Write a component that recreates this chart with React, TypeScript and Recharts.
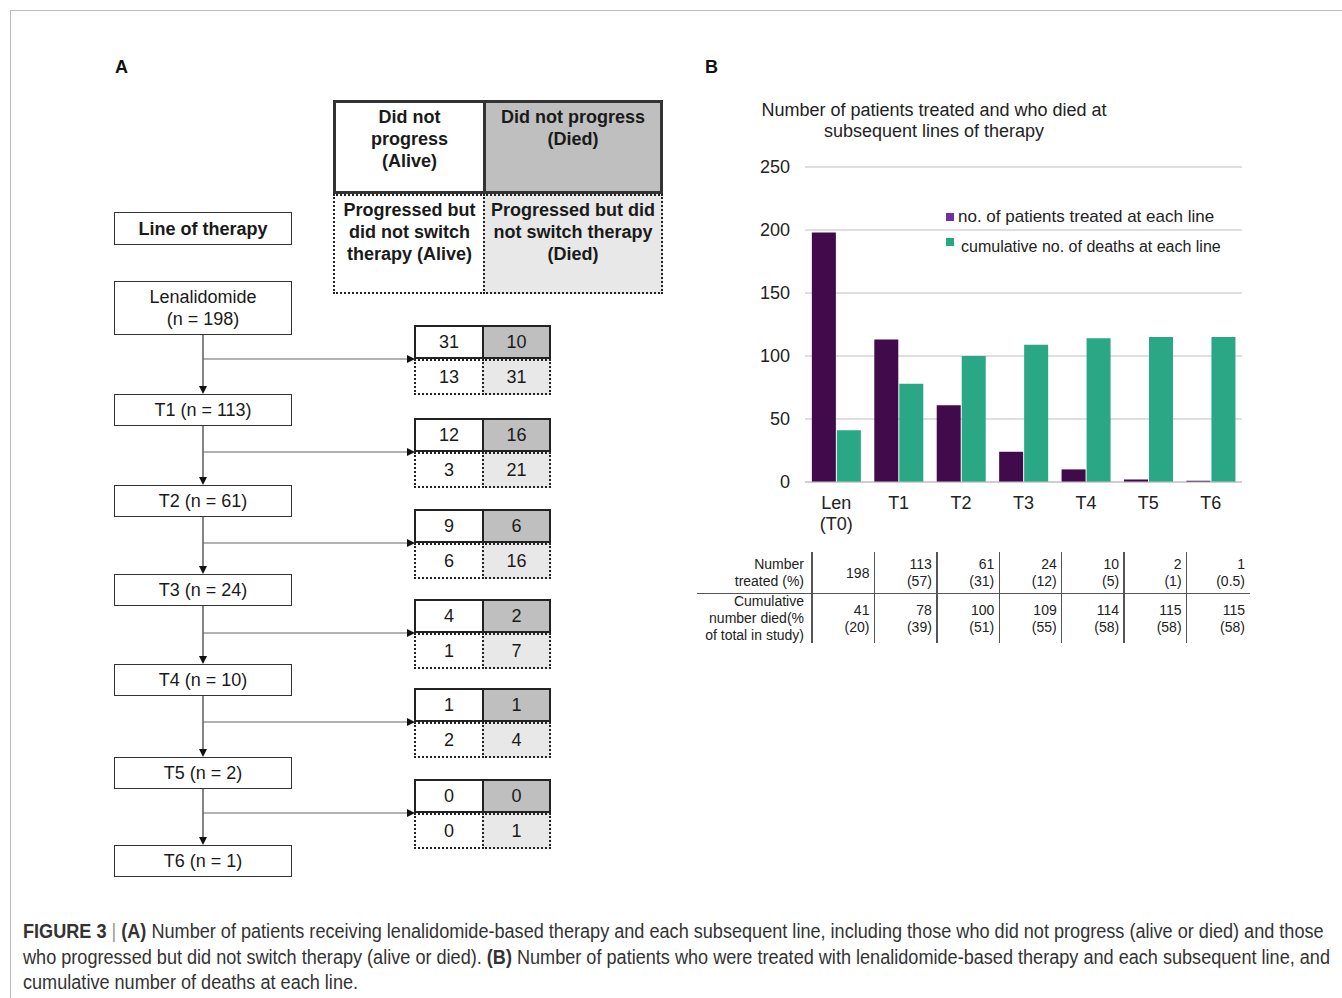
import React from 'react';
import { BarChart, Bar, XAxis, YAxis, CartesianGrid } from 'recharts';

// ---------- DATA ----------
const categories = ['Len (T0)', 'T1', 'T2', 'T3', 'T4', 'T5', 'T6'];
const treated = [198, 113, 61, 24, 10, 2, 1];
const deaths = [41, 78, 100, 109, 114, 115, 115];
const treatedPct = ['', '(57)', '(31)', '(12)', '(5)', '(1)', '(0.5)'];
const deathsPct = ['(20)', '(39)', '(51)', '(55)', '(58)', '(58)', '(58)'];
const yTicks = [0, 50, 100, 150, 200, 250];

const lineLabels = ['Lenalidomide\n(n = 198)', 'T1 (n = 113)', 'T2 (n = 61)', 'T3 (n = 24)', 'T4 (n = 10)', 'T5 (n = 2)', 'T6 (n = 1)'];
const notProgAlive = [31, 12, 9, 4, 1, 0];
const notProgDied = [10, 16, 6, 2, 1, 0];
const progAlive = [13, 3, 6, 1, 2, 0];
const progDied = [31, 21, 16, 7, 4, 1];

const seriesNames = ['no. of patients treated at each line', 'cumulative no. of deaths at each line'];

const chartData = categories.map((c, i) => ({ name: c, treated: treated[i], deaths: deaths[i] }));

// ---------- STYLE / LAYOUT ----------
const FONT = '"Liberation Sans", Arial, Helvetica, sans-serif';
const PURPLE = '#400A4B';
const PURPLE_LEG = '#7030A0';
const GREEN = '#2AA784';
const GRID = '#BFBFBF';

const boxTops = [281, 394, 485, 574, 664, 757, 845];
const boxHeights = [54, 32, 32, 32, 32, 32, 32];
const numTops = [325, 418, 509, 599, 688, 779];

const PLOT_LEFT = 805;
const PLOT_RIGHT = 1242;
const BAND = (PLOT_RIGHT - PLOT_LEFT) / 7;

const abs = (x: number, y: number, w: number, h: number): React.CSSProperties => ({
  position: 'absolute', left: x, top: y, width: w, height: h, boxSizing: 'border-box',
});

const XTick = (props: any) => {
  const { x, y, payload } = props;
  const parts = String(payload.value).split(' ');
  return (
    <text x={x} y={y} textAnchor="middle" fill="#222" fontSize={18} fontFamily={FONT}>
      {parts.map((p: string, i: number) => (
        <tspan key={i} x={x} dy={i === 0 ? 27 : 21}>{p}</tspan>
      ))}
    </text>
  );
};

const Cell = (p: { x: number; y: number; w: number; h: number; bg: string; border: string; bold?: boolean; top?: boolean; children?: React.ReactNode }) => (
  <div
    style={{
      ...abs(p.x, p.y, p.w, p.h),
      background: p.bg,
      border: p.border,
      display: 'flex',
      alignItems: p.top ? 'flex-start' : 'center',
      justifyContent: 'center',
      textAlign: 'center',
      fontWeight: p.bold ? 'bold' : 'normal',
      fontSize: 18,
      lineHeight: '22px',
      color: '#1a1a1a',
      paddingTop: p.top ? 3 : 0,
    }}
  >
    <div>{p.children}</div>
  </div>
);

const PanelA = () => {
  const arrowX = 203;
  const lines: React.ReactNode[] = [];
  for (let i = 0; i < 6; i++) {
    const y0 = boxTops[i] + boxHeights[i];
    const y1 = boxTops[i + 1];
    const by = numTops[i] + 34;
    lines.push(
      <g key={i}>
        <line x1={arrowX} y1={y0} x2={arrowX} y2={y1 - 7} stroke="#333" strokeWidth={1.2} />
        <polygon points={`${arrowX - 4},${y1 - 8} ${arrowX + 4},${y1 - 8} ${arrowX},${y1}`} fill="#111" />
        <line x1={arrowX} y1={by} x2={407} y2={by} stroke="#666" strokeWidth={1.2} />
        <polygon points={`${407},${by - 4} ${407},${by + 4} ${415},${by}`} fill="#111" />
      </g>
    );
  }
  return (
    <>
      <svg style={{ position: 'absolute', left: 0, top: 0 }} width={700} height={900}>
        {lines}
      </svg>
      {/* Legend box */}
      <Cell x={333} y={100} w={153} h={94} bg="#fff" border="3px solid #333" bold top>
        Did not<br />progress<br />(Alive)
      </Cell>
      <Cell x={483} y={100} w={180} h={94} bg="#BFBFBF" border="3px solid #333" bold top>
        Did not progress<br />(Died)
      </Cell>
      <Cell x={333} y={194} w={153} h={100} bg="#fff" border="2.5px dotted #222" bold top>
        Progressed but<br />did not switch<br />therapy (Alive)
      </Cell>
      <Cell x={483} y={194} w={180} h={100} bg="#E8E8E8" border="2.5px dotted #222" bold top>
        Progressed but did<br />not switch therapy<br />(Died)
      </Cell>
      {/* Line of therapy */}
      <Cell x={114} y={212} w={178} h={33} bg="#fff" border="1.5px solid #333" bold>
        Line of therapy
      </Cell>
      {lineLabels.map((l, i) => (
        <Cell key={i} x={114} y={boxTops[i]} w={178} h={boxHeights[i]} bg="#fff" border="1.5px solid #333">
          {l.split('\n').map((s, j) => (
            <div key={j}>{s}</div>
          ))}
        </Cell>
      ))}
      {numTops.map((t, i) => (
        <React.Fragment key={i}>
          <Cell x={414} y={t} w={70} h={34} bg="#fff" border="2.5px solid #222">{notProgAlive[i]}</Cell>
          <Cell x={482} y={t} w={69} h={34} bg="#BFBFBF" border="2.5px solid #222">{notProgDied[i]}</Cell>
          <Cell x={414} y={t + 34} w={70} h={36} bg="#fff" border="2.5px dotted #222">{progAlive[i]}</Cell>
          <Cell x={482} y={t + 34} w={69} h={36} bg="#E8E8E8" border="2.5px dotted #222">{progDied[i]}</Cell>
        </React.Fragment>
      ))}
    </>
  );
};

const TableB = () => {
  const xs = categories.map((_, i) => PLOT_LEFT + 7 + i * BAND);
  const cellStyle = (i: number, top: number, h: number): React.CSSProperties => ({
    ...abs(xs[i], top, (i < 6 ? xs[i + 1] : 1250) - xs[i], h),
    textAlign: 'right',
    paddingRight: 5,
    fontSize: 14,
    lineHeight: '17px',
    color: '#222',
    display: 'flex',
    flexDirection: 'column',
    justifyContent: 'center',
    alignItems: 'flex-end',
  });
  return (
    <>
      {xs.map((x, i) => (
        <div key={'v' + i} style={{ ...abs(x - 0.75, 552, 1.5, 91), background: '#555' }} />
      ))}
      <div style={{ ...abs(697, 592.5, 553, 1.5), background: '#555' }} />
      <div style={{ ...abs(690, 556, 114, 34), textAlign: 'right', fontSize: 14, lineHeight: '17px', color: '#222' }}>
        Number<br />treated (%)
      </div>
      <div style={{ ...abs(690, 593, 114, 51), textAlign: 'right', fontSize: 14, lineHeight: '17px', color: '#222' }}>
        Cumulative<br />number died(%<br />of total in study)
      </div>
      {categories.map((_, i) => (
        <div key={'a' + i} style={cellStyle(i, 556, 34)}>
          <div>{treated[i]}</div>
          {treatedPct[i] ? <div>{treatedPct[i]}</div> : null}
        </div>
      ))}
      {categories.map((_, i) => (
        <div key={'b' + i} style={cellStyle(i, 602, 34)}>
          <div>{deaths[i]}</div>
          <div>{deathsPct[i]}</div>
        </div>
      ))}
    </>
  );
};

const PanelB = () => (
  <>
    <div style={{ ...abs(734, 100, 400, 44), textAlign: 'center', fontSize: 18, lineHeight: '21px', color: '#222' }}>
      Number of patients treated and who died at<br />subsequent lines of therapy
    </div>
    <div style={{ position: 'absolute', left: 730, top: 150 }}>
      <BarChart
        width={520}
        height={400}
        data={chartData}
        margin={{ top: 17, right: 8, left: 15, bottom: 18 }}
        barCategoryGap="11%"
        barGap={1}
      >
        <CartesianGrid vertical={false} stroke={GRID} strokeWidth={1.2} />
        <XAxis
          dataKey="name"
          height={50}
          tickLine={false}
          tickSize={0}
          tickMargin={0}
          axisLine={{ stroke: GRID, strokeWidth: 1.2 }}
          tick={<XTick />}
          interval={0}
        />
        <YAxis
          width={60}
          domain={[0, 250]}
          ticks={yTicks}
          axisLine={false}
          tickLine={false}
          tickSize={0}
          tickMargin={15}
          tick={{ fill: '#222', fontSize: 18, fontFamily: FONT }}
        />
        <Bar dataKey="treated" name={seriesNames[0]} fill={PURPLE} isAnimationActive={false} />
        <Bar dataKey="deaths" name={seriesNames[1]} fill={GREEN} isAnimationActive={false} />
      </BarChart>
    </div>
    {/* legend */}
    <div style={{ ...abs(946, 213, 8, 8), background: PURPLE_LEG }} />
    <div style={{ ...abs(958, 206, 300, 22), fontSize: 17, lineHeight: '22px', color: '#222', whiteSpace: 'nowrap' }}>
      {seriesNames[0]}
    </div>
    <div style={{ ...abs(946, 238, 8, 8), background: GREEN }} />
    <div style={{ ...abs(961, 236, 300, 22), fontSize: 16, lineHeight: '22px', color: '#222', whiteSpace: 'nowrap' }}>
      {seriesNames[1]}
    </div>
    <TableB />
  </>
);

const Caption = () => {
  const st = (top: number): React.CSSProperties => ({
    position: 'absolute', left: 23, top, whiteSpace: 'nowrap', fontFamily: FONT,
    fontSize: 20, lineHeight: '26px', color: '#333',
    transform: 'scaleX(0.905)', transformOrigin: '0 0',
  });
  return (
    <>
      <div style={st(918)}>
        <b>FIGURE 3</b> <span style={{ color: '#999' }}>|</span> <b>(A)</b> Number of patients receiving lenalidomide-based therapy and each subsequent line, including those who did not progress (alive or died) and those
      </div>
      <div style={st(944)}>
        who progressed but did not switch therapy (alive or died). <b>(B)</b> Number of patients who were treated with lenalidomide-based therapy and each subsequent line, and
      </div>
      <div style={st(969)}>cumulative number of deaths at each line.</div>
    </>
  );
};

export default function App() {
  return (
    <div style={{ position: 'absolute', left: 0, top: 0, width: 1342, height: 998, background: '#fff', fontFamily: FONT, overflow: 'hidden' }}>
      <div style={{ position: 'absolute', left: 10, top: 10, width: 1340, height: 1000, borderTop: '1px solid #BBB', borderLeft: '1px solid #BBB' }} />
      <div style={{ ...abs(115, 57, 20, 22), fontWeight: 'bold', fontSize: 18, color: '#111' }}>A</div>
      <div style={{ ...abs(705, 57, 20, 22), fontWeight: 'bold', fontSize: 18, color: '#111' }}>B</div>
      <PanelA />
      <PanelB />
      <Caption />
    </div>
  );
}
